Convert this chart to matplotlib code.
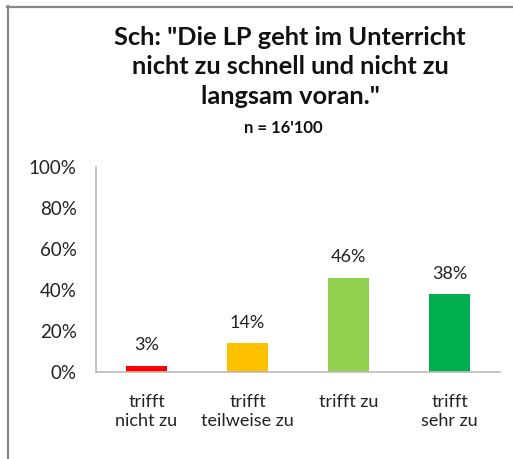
import matplotlib.pyplot as plt
from matplotlib.lines import Line2D

categories = ["trifft\nnicht zu", "trifft\nteilweise zu", "trifft zu", "trifft\nsehr zu"]
values = [3, 14, 46, 38]
labels = ["3%", "14%", "46%", "38%"]
colors = ["#FF0000", "#FFC000", "#92D050", "#00B050"]
yticks = [0, 20, 40, 60, 80, 100]

plt.rcParams['font.family'] = ['Lato', 'DejaVu Sans']

fig = plt.figure(figsize=(5.13, 4.59), dpi=100)
W, H = 513, 459

# frame lines (top and left) like the cropped chart border
fig.add_artist(Line2D([8 / W, 8 / W], [0, 1 - 6 / H], color="#888888", lw=1.6,
                      transform=fig.transFigure))
fig.add_artist(Line2D([7.3 / W, 1], [1 - 6.5 / H, 1 - 6.5 / H], color="#888888", lw=1.6,
                      transform=fig.transFigure))

ax = fig.add_axes([96 / W, 1 - 372 / H, 404 / W, 205 / H])
x = range(len(categories))
ax.bar(x, values, width=0.41, color=colors)
ax.set_xlim(-0.5, 3.5)
ax.set_ylim(0, 100)
ax.set_yticks(yticks)
ax.set_yticklabels([f"{t}%" for t in yticks], fontsize=13.5, color="#222222")
ax.set_xticks(list(x))
ax.set_xticklabels(categories, fontsize=13, color="#222222", linespacing=1.2)
ax.tick_params(axis="both", length=0)
ax.tick_params(axis="y", pad=14)
ax.tick_params(axis="x", pad=16)
for s in ["top", "right"]:
    ax.spines[s].set_visible(False)
for s in ["left", "bottom"]:
    ax.spines[s].set_color("#BBBBBB")
    ax.spines[s].set_linewidth(1.2)

for i, (v, lab) in enumerate(zip(values, labels)):
    ax.annotate(lab, (i, v), xytext=(0, 9), textcoords="offset points",
                ha="center", va="bottom", fontsize=13, color="#222222")

fig.text(290 / W, 1 - 67 / H,
         'Sch: "Die LP geht im Unterricht\nnicht zu schnell und nicht zu\nlangsam voran."',
         ha="center", va="center", fontsize=18.3, fontweight="bold",
         linespacing=1.34, color="#111111")
fig.text(283 / W, 1 - 128 / H, "n = 16'100", ha="center", va="center",
         fontsize=12, fontweight="bold", color="#111111")

fig.savefig("out.png", dpi=100, facecolor="white")
